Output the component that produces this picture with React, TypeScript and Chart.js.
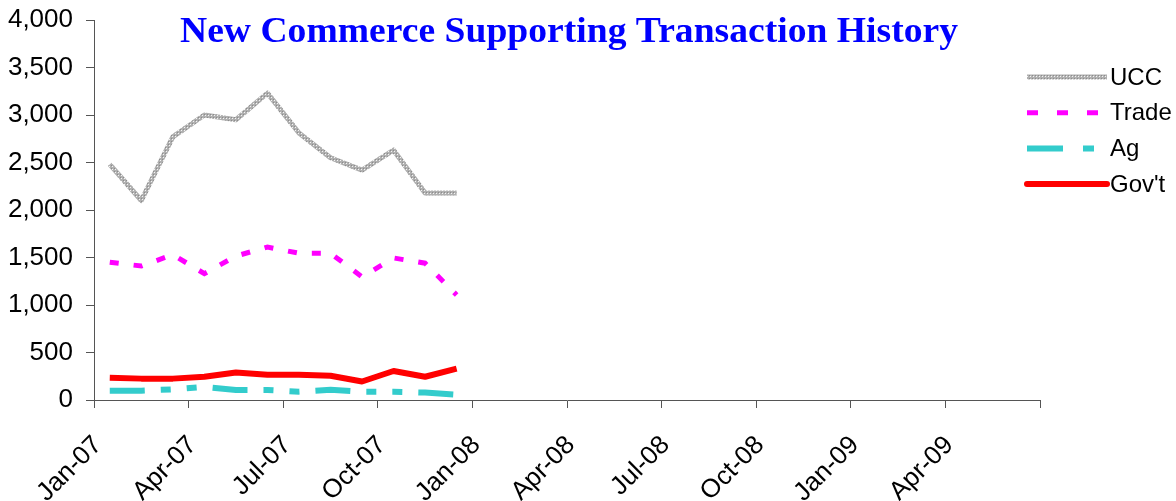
import React, { useEffect, useRef } from 'react';
import { Chart, registerables } from 'chart.js';

Chart.register(...registerables);

const TITLE = 'New Commerce Supporting Transaction History';

// monthly categories (data points sit in the middle of each month slot)
const months = ['Jan-07', 'Feb-07', 'Mar-07', 'Apr-07', 'May-07', 'Jun-07', 'Jul-07', 'Aug-07', 'Sep-07', 'Oct-07', 'Nov-07', 'Dec-07'];
// axis spans 30 months, labelled every quarter
const axisMonthCount = 30;
const tickStepMonths = 3;
const tickLabels = ['Jan-07', 'Apr-07', 'Jul-07', 'Oct-07', 'Jan-08', 'Apr-08', 'Jul-08', 'Oct-08', 'Jan-09', 'Apr-09', ''];

const uccValues = [2480, 2100, 2770, 3000, 2950, 3230, 2810, 2550, 2420, 2630, 2180, 2180];
const tradeValues = [1450, 1410, 1530, 1330, 1515, 1610, 1545, 1545, 1295, 1495, 1440, 1105];
const agValues = [98, 98, 112, 138, 105, 105, 88, 108, 86, 86, 78, 56];
const govtValues = [235, 225, 225, 245, 290, 265, 265, 255, 195, 305, 245, 330];

const yMax = 4000;
const yStep = 500;

const seriesNames = ['UCC', 'Trade', 'Ag', "Gov't"];

const SANS = '"Liberation Sans", Arial, sans-serif';
const SERIF = '"Liberation Serif", "Times New Roman", serif';
const AXIS_COLOR = '#555555';

function makeUccPattern(): CanvasPattern | string {
  const c = document.createElement('canvas');
  c.width = 3;
  c.height = 3;
  const g = c.getContext('2d');
  if (!g) return '#aaaaaa';
  g.fillStyle = '#b0b0b0';
  g.fillRect(0, 0, 3, 3);
  g.fillStyle = '#8c8c8c';
  g.fillRect(0, 0, 1, 1);
  g.fillStyle = '#f4f4f4';
  g.fillRect(1, 1, 1, 1);
  const p = g.createPattern(c, 'repeat');
  return p || '#aaaaaa';
}

export default function App() {
  const canvasRef = useRef<HTMLCanvasElement | null>(null);

  useEffect(() => {
    const canvas = canvasRef.current;
    if (!canvas) return;
    const uccColor = makeUccPattern();

    const toPoints = (vals: number[]) => vals.map((v, i) => ({ x: i + 0.5, y: v, label: months[i] }));

    const styles = [
      { color: uccColor, width: 5, dash: [] as number[], legendDash: [] as number[], join: 'round' },
      { color: '#ff00ff', width: 5, dash: [9, 15], legendDash: [11, 19], join: 'miter' },
      { color: '#33cccc', width: 6, dash: [35, 16, 10, 16, 10, 16], legendDash: [36, 20, 11, 20], join: 'miter' },
      { color: '#ff0000', width: 6, dash: [], legendDash: [], join: 'round' },
    ];
    const valueSets = [uccValues, tradeValues, agValues, govtValues];

    const titlePlugin = {
      id: 'titleAndLegend',
      afterDraw(chart: any) {
        const ctx = chart.ctx as CanvasRenderingContext2D;
        ctx.save();
        // title (stretched to the reference width)
        ctx.font = `bold 35px ${SERIF}`;
        ctx.fillStyle = '#0000ff';
        ctx.textAlign = 'left';
        ctx.textBaseline = 'alphabetic';
        const w = ctx.measureText(TITLE).width;
        const targetW = 778;
        ctx.save();
        ctx.translate(180, 42);
        ctx.scale(targetW / w, 1);
        ctx.fillText(TITLE, 0, 0);
        ctx.restore();
        // legend
        const x0 = 1027;
        const x1 = 1107;
        chart.data.datasets.forEach((ds: any, i: number) => {
          const y = 77 + i * 35.7;
          const st = styles[i];
          ctx.beginPath();
          ctx.setLineDash(st.legendDash);
          ctx.lineWidth = st.width;
          ctx.strokeStyle = st.color as any;
          ctx.lineCap = i === 3 ? 'round' : 'butt';
          ctx.moveTo(x0, y);
          ctx.lineTo(x1, y);
          ctx.stroke();
          ctx.setLineDash([]);
          ctx.font = `24px ${SANS}`;
          ctx.fillStyle = '#000000';
          ctx.textAlign = 'left';
          ctx.textBaseline = 'middle';
          ctx.fillText(ds.label, 1110, y + 1);
        });
        ctx.restore();
      },
    };

    const chart = new Chart(canvas, {
      type: 'line',
      data: {
        datasets: seriesNames.map((name, i) => ({
          label: name,
          data: toPoints(valueSets[i]),
          borderColor: styles[i].color as any,
          backgroundColor: 'transparent',
          borderWidth: styles[i].width,
          borderDash: styles[i].dash,
          borderJoinStyle: styles[i].join as any,
          borderCapStyle: 'butt',
          pointRadius: 0,
          pointHoverRadius: 0,
          tension: 0,
          fill: false,
        })),
      },
      options: {
        responsive: false,
        animation: false,
        events: [],
        devicePixelRatio: 1,
        layout: { padding: { top: 20, right: 136, left: 0, bottom: 0 } },
        plugins: {
          legend: { display: false },
          title: { display: false },
          tooltip: { enabled: false },
        },
        scales: {
          x: {
            type: 'linear',
            min: 0,
            max: axisMonthCount,
            afterFit: (scale: any) => {
              scale.height = 101;
              scale.paddingLeft = 0;
              scale.paddingRight = 0;
            },
            ticks: {
              stepSize: tickStepMonths,
              autoSkip: false,
              minRotation: 45,
              maxRotation: 45,
              padding: 22,
              labelOffset: 4,
              color: '#000000',
              font: { family: SANS, size: 26 },
              callback: (_v: any, index: number) => tickLabels[index] ?? '',
            },
            grid: {
              drawOnChartArea: false,
              drawTicks: true,
              tickLength: 8,
              color: AXIS_COLOR,
              lineWidth: 1,
            },
            border: { display: true, color: AXIS_COLOR, width: 1 },
          },
          y: {
            type: 'linear',
            min: 0,
            max: yMax,
            afterFit: (scale: any) => {
              scale.width = 94;
              scale.paddingTop = 0;
              scale.paddingBottom = 0;
            },
            ticks: {
              stepSize: yStep,
              padding: 13,
              color: '#000000',
              font: { family: SANS, size: 26 },
              callback: (v: any) => Number(v).toLocaleString('en-US'),
            },
            grid: {
              drawOnChartArea: false,
              drawTicks: true,
              tickLength: 8,
              color: AXIS_COLOR,
              lineWidth: 1,
            },
            border: { display: true, color: AXIS_COLOR, width: 1 },
          },
        },
      },
      plugins: [titlePlugin],
    });

    return () => {
      chart.destroy();
    };
  }, []);

  return (
    <div style={{ position: 'absolute', left: 0, top: 0, width: 1176, height: 501, background: '#ffffff' }}>
      <canvas ref={canvasRef} width={1176} height={501} style={{ width: 1176, height: 501, display: 'block' }} />
    </div>
  );
}
